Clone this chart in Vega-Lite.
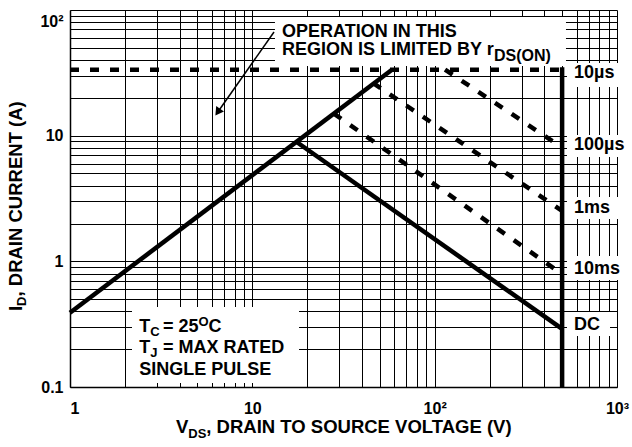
{
  "$schema": "https://vega.github.io/schema/vega-lite/v6.json",
  "width": 547,
  "height": 377,
  "autosize": {"type": "none"},
  "padding": {"left": 70, "top": 10, "right": 15, "bottom": 60},
  "background": "white",
  "config": {
    "view": {"stroke": null},
    "font": "Liberation Sans",
    "axis": {
      "domainColor": "black",
      "domainWidth": 1.5,
      "gridColor": "black",
      "gridOpacity": 1,
      "gridWidth": 1,
      "ticks": false,
      "labelFont": "Liberation Sans",
      "labelFontWeight": "bold",
      "labelFontSize": 16,
      "labelColor": "black",
      "labelFlush": false,
      "labelOverlap": false,
      "title": null
    }
  },
  "datasets": {
    "boxes": [
      {"v": 13.31, "v2": 525, "i": 35.8, "i2": 87.9},
      {"v": 2.188, "v2": 18.03, "i": 0.1076, "i2": 0.4332},
      {"v": 531.8, "v2": 1208.5, "i": 24.39, "i2": 37.87},
      {"v": 531.8, "v2": 1208.5, "i": 6.766, "i2": 10.12},
      {"v": 531.8, "v2": 1208.5, "i": 2.173, "i2": 3.251},
      {"v": 531.8, "v2": 1208.5, "i": 0.7103, "i2": 1.103},
      {"v": 531.8, "v2": 915.5, "i": 0.2546, "i2": 0.3953}
    ],
    "solid": [
      {"series": "rds", "v": 1, "i": 0.39},
      {"series": "rds", "v": 58.3, "i": 33.5},
      {"series": "DC", "v": 17.5, "i": 8.9},
      {"series": "DC", "v": 500, "i": 0.29},
      {"series": "limit", "v": 500, "i": 35},
      {"series": "limit", "v": 500, "i": 0.1}
    ],
    "dashed": [
      {"series": "10µs", "v": 1, "i": 33.5},
      {"series": "10µs", "v": 500, "i": 33.5},
      {"series": "100µs", "v": 114, "i": 33.5},
      {"series": "100µs", "v": 500, "i": 8.05},
      {"series": "1ms", "v": 46, "i": 26.2},
      {"series": "1ms", "v": 500, "i": 2.52},
      {"series": "10ms", "v": 28, "i": 15},
      {"series": "10ms", "v": 500, "i": 0.79}
    ],
    "arrow": [{"v": 13.15, "i": 66.8, "v2": 6.524, "i2": 15.72}],
    "arrowhead": [{"v": 6.524, "i": 15.72}],
    "txt18": [
      {"t": "OPERATION IN THIS", "v": 14.54, "i": 61.3},
      {"t": "REGION IS LIMITED BY r", "v": 14.54, "i": 43.85},
      {"t": "T", "v": 2.399, "i": 0.2724},
      {"t": "= 25", "v": 3.236, "i": 0.2724},
      {"t": "C", "v": 5.75, "i": 0.2724},
      {"t": "T", "v": 2.399, "i": 0.1848},
      {"t": "= MAX RATED", "v": 3.236, "i": 0.1848},
      {"t": "SINGLE PULSE", "v": 2.399, "i": 0.1246},
      {"t": "10µs", "v": 581, "i": 29.03},
      {"t": "100µs", "v": 581, "i": 7.691},
      {"t": "1ms", "v": 581, "i": 2.425},
      {"t": "10ms", "v": 581, "i": 0.7928},
      {"t": "DC", "v": 581, "i": 0.2842}
    ],
    "txt13": [
      {"t": "C", "v": 2.757, "i": 0.2561},
      {"t": "O", "v": 5.06, "i": 0.3075},
      {"t": "J", "v": 2.757, "i": 0.1733},
      {"t": "DS", "v": 4.456, "i": 0.0393}
    ],
    "txt16": [{"t": "DS(ON)", "v": 211.5, "i": 39.28}],
    "xtitle": [
      {"t": "V", "v": 3.814, "i": 0.0431},
      {"t": ", DRAIN TO SOURCE VOLTAGE (V)", "v": 5.592, "i": 0.0431}
    ],
    "ytitle": [
      {"t": "I", "v": 0.5454, "i": 0.4025},
      {"t": ", DRAIN CURRENT (A)", "v": 0.5454, "i": 0.5251}
    ],
    "ytitleSub": [{"t": "D", "v": 0.5737, "i": 0.4418}]
  },
  "encoding": {
    "x": {
      "field": "v",
      "type": "quantitative",
      "scale": {"type": "log", "domain": [1, 1000], "nice": false},
      "axis": {
        "values": [1, 2, 3, 4, 5, 6, 7, 8, 9, 10, 20, 30, 40, 50, 60, 70, 80, 90, 100, 200, 300, 400, 500, 600, 700, 800, 900, 1000],
        "labelExpr": "datum.value == 1 ? '1' : datum.value == 10 ? '10' : datum.value == 100 ? '10²' : datum.value == 1000 ? '10³' : ''",
        "labelAlign": {"condition": {"test": "datum.value == 1", "value": "left"}, "value": "center"},
        "labelPadding": 13
      }
    },
    "y": {
      "field": "i",
      "type": "quantitative",
      "scale": {"type": "log", "domain": [0.1, 100], "nice": false},
      "axis": {
        "values": [0.1, 0.2, 0.3, 0.4, 0.5, 0.6, 0.7, 0.8, 0.9, 1, 2, 3, 4, 5, 6, 7, 8, 9, 10, 20, 30, 40, 50, 60, 70, 80, 90, 100],
        "labelExpr": "datum.value == 0.1 ? '0.1' : datum.value == 1 ? '1' : datum.value == 10 ? '10' : datum.value == 100 ? '10²' : ''",
        "labelBaseline": "middle",
        "labelOffset": {"condition": {"test": "datum.value == 100", "value": 11}, "value": 0},
        "labelPadding": 7
      }
    }
  },
  "layer": [
    {
      "data": {"name": "boxes"},
      "mark": {"type": "rect", "fill": "white", "stroke": null},
      "encoding": {"x2": {"field": "v2"}, "y2": {"field": "i2"}}
    },
    {
      "data": {"name": "solid"},
      "mark": {"type": "line", "color": "black", "strokeWidth": 4.5, "strokeCap": "butt"},
      "encoding": {"detail": {"field": "series"}}
    },
    {
      "data": {"name": "dashed"},
      "mark": {"type": "line", "color": "black", "strokeWidth": 4.5, "strokeCap": "butt", "strokeDash": [9, 11]},
      "encoding": {"detail": {"field": "series"}}
    },
    {
      "data": {"name": "arrow"},
      "mark": {"type": "rule", "color": "black", "strokeWidth": 1.5},
      "encoding": {"x2": {"field": "v2"}, "y2": {"field": "i2"}}
    },
    {
      "data": {"name": "arrowhead"},
      "mark": {"type": "point", "shape": "triangle", "filled": true, "size": 90, "angle": 215, "color": "black", "opacity": 1}
    },
    {
      "data": {"name": "txt18"},
      "mark": {"type": "text", "align": "left", "baseline": "alphabetic", "fontSize": 18, "fontWeight": "bold", "color": "black", "font": "Liberation Sans"},
      "encoding": {"text": {"field": "t"}}
    },
    {
      "data": {"name": "txt13"},
      "mark": {"type": "text", "align": "left", "baseline": "alphabetic", "fontSize": 13, "fontWeight": "bold", "color": "black", "font": "Liberation Sans"},
      "encoding": {"text": {"field": "t"}}
    },
    {
      "data": {"name": "txt16"},
      "mark": {"type": "text", "align": "left", "baseline": "alphabetic", "fontSize": 16, "fontWeight": "bold", "color": "black", "font": "Liberation Sans"},
      "encoding": {"text": {"field": "t"}}
    },
    {
      "data": {"name": "xtitle"},
      "mark": {"type": "text", "align": "left", "baseline": "alphabetic", "fontSize": 18.5, "fontWeight": "bold", "color": "black", "font": "Liberation Sans"},
      "encoding": {"text": {"field": "t"}}
    },
    {
      "data": {"name": "ytitle"},
      "mark": {"type": "text", "align": "left", "baseline": "alphabetic", "angle": 270, "fontSize": 18.5, "fontWeight": "bold", "color": "black", "font": "Liberation Sans"},
      "encoding": {"text": {"field": "t"}}
    },
    {
      "data": {"name": "ytitleSub"},
      "mark": {"type": "text", "align": "left", "baseline": "alphabetic", "angle": 270, "fontSize": 13, "fontWeight": "bold", "color": "black", "font": "Liberation Sans"},
      "encoding": {"text": {"field": "t"}}
    }
  ]
}
